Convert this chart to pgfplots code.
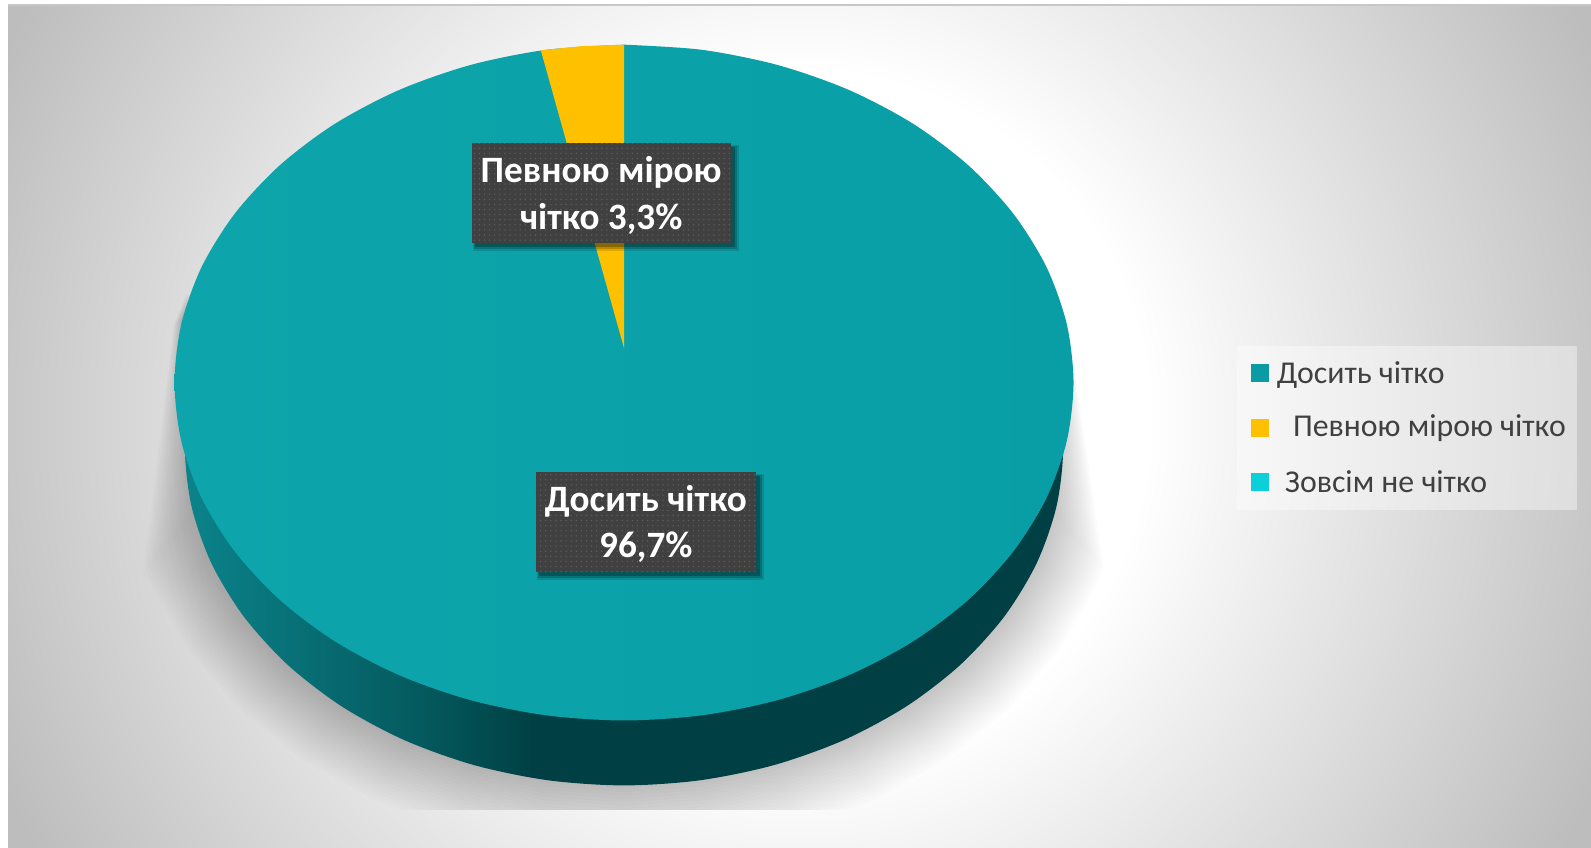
\documentclass[border=0pt]{standalone}
\usepackage{fontspec}
\setmainfont{Carlito}
\usepackage{pgfplots}
\usepackage{pgfplotstable}
\pgfplotsset{compat=1.18}
\usetikzlibrary{patterns.meta}

\definecolor{teal1}{HTML}{0DA5AB}
\definecolor{teal2}{HTML}{099EA6}
\definecolor{legteal}{HTML}{0A9BA5}
\definecolor{gold}{HTML}{FFC000}
\definecolor{cyan1}{HTML}{0BD0D9}
\definecolor{labelbg}{HTML}{404040}
\definecolor{labeldot}{HTML}{5E5E5E}
\definecolor{legtext}{HTML}{404040}

\pgfdeclareradialshading{chartbg}{\pgfpoint{0bp}{0bp}}{%
  color(0bp)=(white);color(9.7bp)=(white);color(24.4bp)=(black!26);color(50bp)=(black!26)}
\definecolor{wall1}{HTML}{0B838B}
\definecolor{wall2}{HTML}{045A5E}
\definecolor{wall3}{HTML}{003F43}
\pgfdeclarehorizontalshading{wallshade}{100bp}{%
  color(0bp)=(wall1);color(25bp)=(wall1);color(38.4bp)=(wall2);color(45bp)=(wall3);color(100bp)=(wall3)}

% rim of the pie top
\pgfplotstableread{
x y
615 44
691.9 49.1
766.5 64.1
836.5 88.6
899.8 121.9
954.3 162.9
998.6 210.5
1031.3 263.1
1051.3 319.2
1058 377
1051.3 434.8
1031.3 490.9
998.6 543.5
954.3 591.1
899.8 632.1
836.5 665.4
766.5 689.9
691.9 704.9
615 710
538.1 704.9
463.5 689.9
393.5 665.4
330.2 632.1
275.7 591.1
231.4 543.5
198.7 490.9
178.7 434.8
172 377
178.7 319.2
198.7 263.1
231.4 210.5
275.7 162.9
330.2 121.9
393.5 88.6
463.5 64.1
538.1 49.1
615 44
}\rim

% inner and outer edge of the soft shadow
\pgfplotstableread{
xa ya xb yb
930 230 930 230
1040 290 1054 330
1035 500 1088 560
1019 554.9 1080.2 577.8
987.4 607.5 1043.7 641
944.4 655.1 994.2 698.1
891.4 696.1 933.2 747.4
830 729.4 862.5 787.4
762.1 753.9 784.3 816.9
689.6 768.9 700.9 834.9
615 774 615 841
540.4 768.9 529.1 834.9
467.9 753.9 445.7 816.9
400 729.4 367.5 787.4
338.6 696.1 296.8 747.4
285.6 655.1 235.8 698.1
242.6 607.5 186.3 641
211 554.9 149.8 577.8
195 500 141 565
183 290 171 320
300 230 300 230
}\shadowedge

\newcommand{\labelbox}[4]{%
  \addplot[draw=none,fill=black,fill opacity=0.13] coordinates {(#1+1,#2+2)(#3+8,#2+2)(#3+8,#4+8)(#1+1,#4+8)} -- cycle;
  \addplot[draw=none,fill=black,fill opacity=0.18] coordinates {(#1+2,#2+3)(#3+6,#2+3)(#3+6,#4+6)(#1+2,#4+6)} -- cycle;
  \addplot[draw=none,fill=black,fill opacity=0.25] coordinates {(#1+3,#2+4)(#3+4,#2+4)(#3+4,#4+4)(#1+3,#4+4)} -- cycle;
  \addplot[draw=none,fill=labelbg] coordinates {(#1,#2)(#3,#2)(#3,#4)(#1,#4)} -- cycle;
  \addplot[draw=none,pattern={Dots[radius=0.38pt,distance=2.55pt]},pattern color=labeldot] coordinates {(#1,#2)(#3,#2)(#3,#4)(#1,#4)} -- cycle;
}
\newcommand{\legsquare}[2]{%
  \addplot[draw=none,fill=#2] coordinates {(1233,#1-9)(1251,#1-9)(1251,#1+9)(1233,#1+9)} -- cycle;
}

\begin{document}
\begin{tikzpicture}
\useasboundingbox (0,0) rectangle (795.5pt,423.5pt);
\begin{axis}[
    at={(0,0)},anchor=south west,
    scale only axis,
    width=795.5pt,height=423.5pt,
    xmin=0,xmax=1568,ymin=0,ymax=834.7,
    y dir=reverse,
    axis lines=none,
    ]
% background
\begin{scope}
\clip (axis cs:8,6) rectangle (axis cs:1568,834.7);
\addplot[draw=none,shade,shading=chartbg] coordinates {(-99,-473)(1675,-473)(1675,1301)(-99,1301)} -- cycle;
\end{scope}
\addplot[draw=black!22,line width=1pt] coordinates {(8,5)(1568,5)};

% shadow under the pie
\begin{scope}
\clip (axis cs:0,200) rectangle (axis cs:1568,798);
\pgfplotsinvokeforeach{0.05,0.1,0.15,0.2,0.25,0.3,0.35,0.4,0.45,0.5,0.55,0.6,0.65,0.7,0.75,0.8,0.85,0.9,0.95,1.0}{
  \addplot[draw=none,fill=black,fill opacity=0.012]
    table[x expr=\thisrow{xa}+(\thisrow{xb}-\thisrow{xa})*#1,
          y expr=\thisrow{ya}+(\thisrow{yb}-\thisrow{ya})*#1] {\shadowedge} -- cycle;
}
\end{scope}

% side wall and top of the pie
\addplot[draw=none,shade,shading=wallshade,smooth]
  table[x expr=615+(\thisrow{x}-615)*0.977,y expr=\thisrow{y}+64] {\rim} -- cycle;
\addplot[draw=none,left color=teal1,right color=teal2,smooth] table[x=x,y=y] {\rim} -- cycle;
\addplot[draw=none,fill=gold] coordinates {(615,343)(615,44)(574,45.4)(533,49.6)} -- cycle;

% data labels
\labelbox{465}{141}{720}{239.5}
\labelbox{528}{465}{745}{564}
\node[anchor=base,text=white,font=\fontsize{18.6}{22}\selectfont\bfseries] at (axis cs:592.5,180) {Певною мірою};
\node[anchor=base,text=white,font=\fontsize{18.6}{22}\selectfont\bfseries] at (axis cs:592.5,225.7) {чітко 3,3\%};
\node[anchor=base,text=white,font=\fontsize{18.6}{22}\selectfont\bfseries] at (axis cs:636.5,503.6) {Досить чітко};
\node[anchor=base,text=white,font=\fontsize{18.6}{22}\selectfont\bfseries] at (axis cs:636.5,549) {96,7\%};

% legend
\addplot[draw=none,fill=white,fill opacity=0.4] coordinates {(1219,341)(1554,341)(1554,503)(1219,503)} -- cycle;
\legsquare{367.6}{legteal}
\legsquare{421.8}{gold}
\legsquare{475}{cyan1}
\node[anchor=base west,inner sep=0pt,text=legtext,font=\fontsize{15.9}{18}\selectfont] at (axis cs:1258,377.6) {Досить чітко};
\node[anchor=base west,inner sep=0pt,text=legtext,font=\fontsize{15.9}{18}\selectfont] at (axis cs:1274,430.4) {Певною мірою чітко};
\node[anchor=base west,inner sep=0pt,text=legtext,font=\fontsize{15.9}{18}\selectfont] at (axis cs:1266,485) {Зовсім не чітко};
\end{axis}
\end{tikzpicture}
\end{document}
